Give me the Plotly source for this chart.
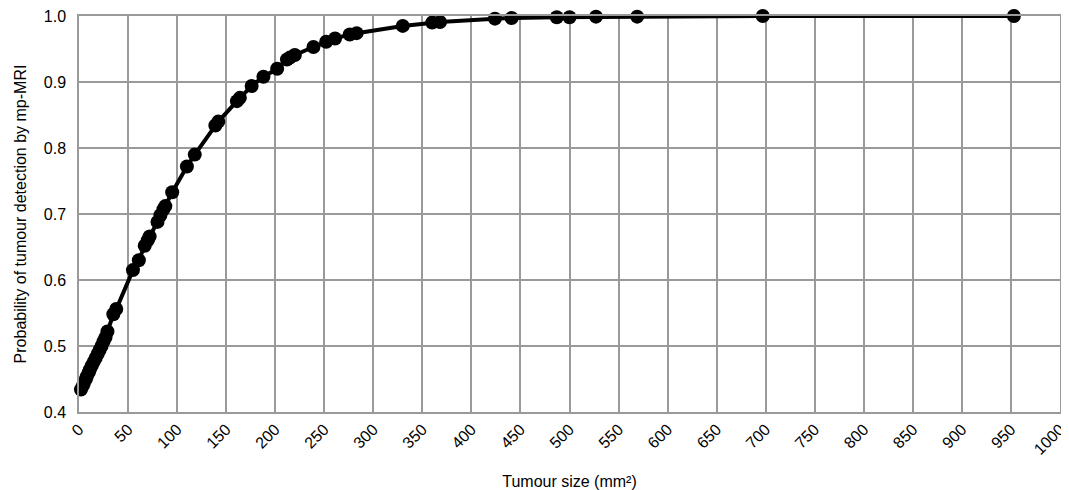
import plotly.graph_objects as go

tumour_size = [2, 4, 5, 7, 8, 10, 11, 13, 15, 17, 19, 21, 23, 25, 27, 29, 35, 38,
               55, 61, 67, 70, 72, 80, 83, 86, 88, 95, 110, 118, 139, 142, 161, 164,
               176, 188, 202, 212, 215, 220, 239, 252, 261, 276, 283, 330, 360, 368,
               424, 441, 487, 500, 527, 569, 697, 953]
probability = [0.434, 0.440, 0.444, 0.450, 0.454, 0.460, 0.464, 0.470, 0.476, 0.482,
               0.488, 0.494, 0.500, 0.507, 0.513, 0.522, 0.548, 0.556,
               0.615, 0.630, 0.652, 0.660, 0.666, 0.688, 0.698, 0.707, 0.712, 0.733,
               0.772, 0.790, 0.834, 0.840, 0.871, 0.876, 0.894, 0.908, 0.920, 0.934,
               0.937, 0.941, 0.953, 0.961, 0.966, 0.972, 0.974, 0.985, 0.990, 0.991,
               0.996, 0.997, 0.998, 0.998, 0.999, 0.999, 1.0, 1.0]

x_ticks = list(range(0, 1001, 50))
y_ticks = [0.4, 0.5, 0.6, 0.7, 0.8, 0.9, 1.0]

fig = go.Figure()
fig.add_trace(go.Scatter(
    x=tumour_size, y=probability, mode="lines+markers",
    line=dict(color="black", width=4),
    marker=dict(color="black", size=14),
    cliponaxis=False, showlegend=False,
))

grid = "#9a9a9a"
fig.update_layout(
    width=1061, height=482,
    margin=dict(l=71, r=9, t=8, b=78),
    plot_bgcolor="white", paper_bgcolor="white",
    font=dict(family="Liberation Sans, Arial, sans-serif", size=16, color="black"),
    xaxis=dict(
        range=[0, 1000], tickvals=x_ticks, ticktext=[str(v) for v in x_ticks],
        tickangle=-45, showgrid=True, gridcolor=grid, gridwidth=1.5,
        showline=True, linecolor=grid, linewidth=1.5, mirror=True,
        ticks="", zeroline=False, automargin=False, ticklabeloverflow="allow",
        title=dict(text="Tumour size (mm²)", font=dict(size=16), standoff=19),
    ),
    yaxis=dict(
        range=[0.4, 1.0], tickvals=y_ticks, ticktext=[f"{v:.1f}" for v in y_ticks],
        showgrid=True, gridcolor=grid, gridwidth=1.5,
        showline=True, linecolor=grid, linewidth=1.5, mirror=True,
        ticks="", zeroline=False, ticklabelstandoff=8, automargin=False,
        ticklabeloverflow="allow",
        title=dict(text="Probability of tumour detection by mp-MRI", font=dict(size=16), standoff=13),
    ),
)

fig.write_html("out.html")
